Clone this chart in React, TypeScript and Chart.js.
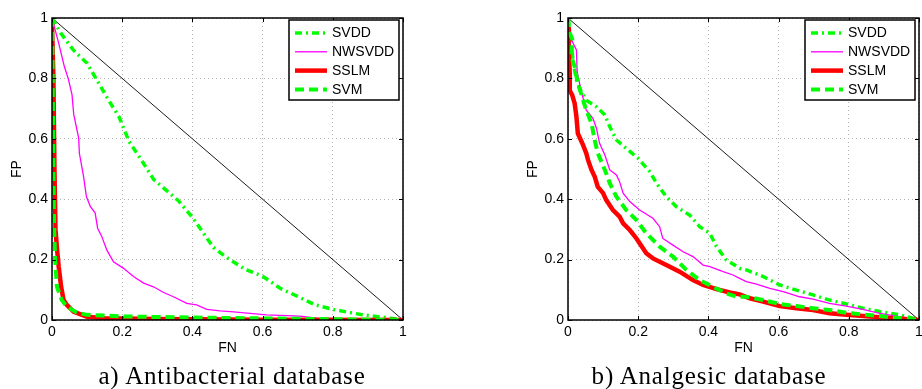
import React, { useEffect, useRef } from "react";
import { Chart, registerables } from "chart.js";

Chart.register(...registerables);

// ---------- data ----------
const tickValues = [0, 0.2, 0.4, 0.6, 0.8, 1];
const tickLabels = ["0", "0.2", "0.4", "0.6", "0.8", "1"];
const xTitle = "FN";
const yTitle = "FP";
const seriesNames = ["SVDD", "NWSVDD", "SSLM", "SVM"];
const captionA = "a) Antibacterial database";
const captionB = "b) Analgesic database";

const refFN = [0, 1];
const refFP = [1, 0];

// a) Antibacterial
const abSvddFN = [0, 0.025, 0.06, 0.1, 0.125, 0.16, 0.19, 0.22, 0.26, 0.29, 0.33, 0.36, 0.4, 0.43, 0.46, 0.5, 0.55, 0.6, 0.65, 0.7, 0.75, 0.8, 0.88, 0.95, 1];
const abSvddFP = [1, 0.95, 0.895, 0.85, 0.8, 0.73, 0.675, 0.59, 0.52, 0.465, 0.425, 0.395, 0.34, 0.29, 0.24, 0.205, 0.168, 0.145, 0.105, 0.078, 0.05, 0.035, 0.018, 0.008, 0];
const abNwFN = [0, 0.019, 0.035, 0.047, 0.057, 0.062, 0.076, 0.078, 0.09, 0.098, 0.109, 0.123, 0.13, 0.142, 0.156, 0.175, 0.204, 0.232, 0.261, 0.289, 0.318, 0.346, 0.384, 0.412, 0.441, 0.479, 0.517, 0.564, 0.611, 0.706, 0.754, 0.8, 1];
const abNwFP = [1, 0.917, 0.84, 0.796, 0.746, 0.68, 0.602, 0.552, 0.475, 0.409, 0.376, 0.354, 0.304, 0.276, 0.232, 0.193, 0.171, 0.144, 0.122, 0.11, 0.091, 0.077, 0.055, 0.05, 0.035, 0.03, 0.027, 0.022, 0.017, 0.013, 0.006, 0.005, 0];
const abSslmFN = [0, 0.004, 0.007, 0.01, 0.014, 0.019, 0.026, 0.033, 0.042, 0.062, 0.1, 0.15, 0.3, 0.6, 1];
const abSslmFP = [0.98, 0.8, 0.5, 0.3, 0.24, 0.177, 0.11, 0.066, 0.05, 0.027, 0.011, 0.006, 0.003, 0.001, 0];
const abSvmFN = [0, 0.002, 0.004, 0.006, 0.009, 0.014, 0.028, 0.042, 0.07, 0.1, 0.2, 0.4, 0.7, 1];
const abSvmFP = [1, 0.8, 0.5, 0.3, 0.2, 0.11, 0.066, 0.044, 0.025, 0.017, 0.012, 0.008, 0.004, 0];

// b) Analgesic
const anSvddFN = [0, 0.008, 0.015, 0.025, 0.038, 0.052, 0.081, 0.105, 0.119, 0.138, 0.166, 0.199, 0.233, 0.252, 0.28, 0.309, 0.347, 0.375, 0.404, 0.423, 0.451, 0.489, 0.508, 0.556, 0.603, 0.651, 0.698, 0.745, 0.793, 0.84, 0.888, 0.945, 1];
const anSvddFP = [1, 0.93, 0.85, 0.79, 0.755, 0.728, 0.706, 0.679, 0.64, 0.596, 0.568, 0.536, 0.491, 0.453, 0.408, 0.375, 0.347, 0.309, 0.287, 0.243, 0.199, 0.171, 0.166, 0.144, 0.116, 0.099, 0.083, 0.066, 0.053, 0.039, 0.028, 0.017, 0];
const anNwFN = [0, 0.01, 0.024, 0.026, 0.038, 0.052, 0.071, 0.081, 0.09, 0.105, 0.119, 0.138, 0.147, 0.157, 0.176, 0.204, 0.242, 0.261, 0.27, 0.299, 0.328, 0.356, 0.385, 0.404, 0.442, 0.47, 0.489, 0.508, 0.537, 0.575, 0.613, 0.66, 0.698, 0.745, 0.793, 0.84, 0.888, 0.935, 1];
const anNwFP = [1, 0.927, 0.894, 0.822, 0.756, 0.695, 0.668, 0.635, 0.585, 0.546, 0.497, 0.48, 0.458, 0.42, 0.392, 0.364, 0.337, 0.309, 0.27, 0.248, 0.226, 0.21, 0.182, 0.177, 0.16, 0.149, 0.138, 0.127, 0.119, 0.105, 0.094, 0.077, 0.069, 0.055, 0.046, 0.035, 0.022, 0.013, 0];
const anSslmFN = [0, 0.002, 0.005, 0.005, 0.012, 0.019, 0.024, 0.028, 0.043, 0.052, 0.057, 0.067, 0.076, 0.085, 0.1, 0.109, 0.128, 0.147, 0.157, 0.176, 0.195, 0.204, 0.223, 0.242, 0.28, 0.318, 0.356, 0.385, 0.423, 0.461, 0.489, 0.518, 0.556, 0.603, 0.651, 0.698, 0.745, 0.793, 0.888, 1];
const anSslmFP = [0.97, 0.9, 0.817, 0.76, 0.745, 0.717, 0.673, 0.618, 0.579, 0.552, 0.53, 0.497, 0.475, 0.441, 0.42, 0.397, 0.364, 0.342, 0.32, 0.298, 0.27, 0.254, 0.221, 0.204, 0.182, 0.16, 0.132, 0.116, 0.102, 0.091, 0.085, 0.072, 0.061, 0.046, 0.039, 0.033, 0.022, 0.017, 0.009, 0];
const anSvmFN = [0, 0.005, 0.012, 0.01, 0.019, 0.028, 0.043, 0.052, 0.067, 0.076, 0.085, 0.105, 0.119, 0.138, 0.166, 0.195, 0.223, 0.261, 0.299, 0.337, 0.375, 0.413, 0.451, 0.48, 0.508, 0.556, 0.603, 0.651, 0.698, 0.745, 0.793, 0.888, 1];
const anSvmFP = [1, 0.95, 0.93, 0.87, 0.839, 0.784, 0.728, 0.695, 0.651, 0.596, 0.552, 0.497, 0.453, 0.408, 0.364, 0.331, 0.287, 0.243, 0.21, 0.166, 0.132, 0.11, 0.088, 0.077, 0.077, 0.066, 0.053, 0.046, 0.039, 0.033, 0.024, 0.013, 0];

// ---------- styles ----------
const GREEN = "#00ff00";
const styles: Record<string, { color: string; width: number; dash: number[]; order: number }> = {
  SVDD: { color: GREEN, width: 3.5, dash: [7, 4, 2, 4], order: 3 },
  NWSVDD: { color: "#ff00ff", width: 1.3, dash: [], order: 2 },
  SSLM: { color: "#ff0000", width: 4.5, dash: [], order: 1 },
  SVM: { color: GREEN, width: 4, dash: [9, 5], order: 0 },
};

const SANS = "'Liberation Sans', Arial, Helvetica, sans-serif";

type Series = { name: string; fn: number[]; fp: number[] };

const toPoints = (xs: number[], ys: number[]) => xs.map((x, i) => ({ x, y: ys[i] }));

const framePlugin = {
  id: "matlabFrame",
  afterDraw(chart: any) {
    const { ctx, chartArea: a, scales } = chart;
    ctx.save();
    // ticks inward
    ctx.strokeStyle = "#000";
    ctx.lineWidth = 1;
    ctx.beginPath();
    tickValues.forEach((v) => {
      const px = Math.round(scales.x.getPixelForValue(v)) + 0.5;
      const py = Math.round(scales.y.getPixelForValue(v)) + 0.5;
      ctx.moveTo(px, a.bottom);
      ctx.lineTo(px, a.bottom - 4);
      ctx.moveTo(px, a.top);
      ctx.lineTo(px, a.top + 4);
      ctx.moveTo(a.left, py);
      ctx.lineTo(a.left + 4, py);
      ctx.moveTo(a.right, py);
      ctx.lineTo(a.right - 4, py);
    });
    ctx.stroke();
    // frame
    ctx.lineWidth = 1.5;
    ctx.strokeRect(a.left, a.top, a.right - a.left, a.bottom - a.top);

    // legend
    const w = 110;
    const h = 80;
    const lx = a.right - 4 - w;
    const ly = a.top + 2;
    ctx.fillStyle = "#fff";
    ctx.fillRect(lx, ly, w, h);
    ctx.lineWidth = 1.5;
    ctx.strokeStyle = "#000";
    ctx.strokeRect(lx, ly, w, h);
    ctx.font = `14px ${SANS}`;
    ctx.textBaseline = "middle";
    ctx.textAlign = "left";
    seriesNames.forEach((name, i) => {
      const s = styles[name];
      const y = ly + 13 + i * 18.8;
      ctx.beginPath();
      ctx.strokeStyle = s.color;
      ctx.lineWidth = s.width;
      ctx.setLineDash(s.dash);
      ctx.moveTo(lx + 6, y);
      ctx.lineTo(lx + 38, y);
      ctx.stroke();
      ctx.setLineDash([]);
      ctx.fillStyle = "#000";
      ctx.fillText(name, lx + 43, y + 0.5);
    });
    ctx.restore();
  },
};

function RocChart({ series, width, height }: { series: Series[]; width: number; height: number }) {
  const ref = useRef<HTMLCanvasElement>(null);
  useEffect(() => {
    if (!ref.current) return;
    const datasets: any[] = series.map((s) => ({
      label: s.name,
      data: toPoints(s.fn, s.fp),
      borderColor: styles[s.name].color,
      borderWidth: styles[s.name].width,
      borderDash: styles[s.name].dash,
      order: styles[s.name].order,
      pointRadius: 0,
      tension: 0,
      fill: false,
    }));
    datasets.push({
      label: "ref",
      data: toPoints(refFN, refFP),
      borderColor: "#000",
      borderWidth: 0.9,
      order: 5,
      pointRadius: 0,
      tension: 0,
      fill: false,
    });
    const axisCommon = {
      type: "linear" as const,
      min: 0,
      max: 1,
      afterBuildTicks: (scale: any) => {
        scale.ticks = tickValues.map((v) => ({ value: v }));
      },
      grid: { color: "#b4b4b4", lineWidth: 1, drawTicks: false },
      border: { display: false, dash: [1, 3] },
    };
    const chart = new Chart(ref.current, {
      type: "line",
      data: { datasets },
      plugins: [framePlugin],
      options: {
        animation: false,
        responsive: false,
        devicePixelRatio: 1,
        layout: { padding: { left: 0, right: 17, top: 18, bottom: 0 } },
        plugins: { legend: { display: false }, tooltip: { enabled: false } },
        scales: {
          x: {
            ...axisCommon,
            position: "bottom",
            ticks: {
              color: "#000",
              font: { family: SANS, size: 14 },
              padding: 4,
              maxRotation: 0,
              callback: (_v: any, i: number) => tickLabels[i],
            },
            title: {
              display: true,
              text: xTitle,
              color: "#000",
              font: { family: SANS, size: 14 },
              padding: { top: 0, bottom: 32 },
            },
            afterFit: (scale: any) => {
              scale.height = 69;
            },
          },
          y: {
            ...axisCommon,
            position: "left",
            ticks: {
              color: "#000",
              font: { family: SANS, size: 14 },
              padding: 4,
              callback: (_v: any, i: number) => tickLabels[i],
            },
            title: {
              display: true,
              text: yTitle,
              color: "#000",
              font: { family: SANS, size: 14 },
              padding: { top: 9, bottom: 0 },
            },
            afterFit: (scale: any) => {
              scale.width = 52;
            },
          },
        },
      } as any,
    });
    return () => chart.destroy();
  }, [series]);
  return <canvas ref={ref} width={width} height={height} style={{ width, height, display: "block" }} />;
}

const seriesA: Series[] = [
  { name: "SVDD", fn: abSvddFN, fp: abSvddFP },
  { name: "NWSVDD", fn: abNwFN, fp: abNwFP },
  { name: "SSLM", fn: abSslmFN, fp: abSslmFP },
  { name: "SVM", fn: abSvmFN, fp: abSvmFP },
];
const seriesB: Series[] = [
  { name: "SVDD", fn: anSvddFN, fp: anSvddFP },
  { name: "NWSVDD", fn: anNwFN, fp: anNwFP },
  { name: "SSLM", fn: anSslmFN, fp: anSslmFP },
  { name: "SVM", fn: anSvmFN, fp: anSvmFP },
];

const captionStyle: React.CSSProperties = {
  position: "absolute",
  top: 362,
  height: 28,
  lineHeight: "28px",
  fontFamily: "'Liberation Serif', 'Times New Roman', serif",
  fontSize: 25,
  letterSpacing: 0.8,
  color: "#000",
  textAlign: "center",
  whiteSpace: "nowrap",
};

export default function App() {
  return (
    <div style={{ position: "fixed", left: 0, top: 0, width: 922, height: 389, overflow: "hidden", background: "#fff" }}>
      <div style={{ position: "absolute", left: 0, top: 0 }}>
        <RocChart series={seriesA} width={420} height={389} />
      </div>
      <div style={{ position: "absolute", left: 516, top: 0 }}>
        <RocChart series={seriesB} width={420} height={389} />
      </div>
      <div style={{ ...captionStyle, left: 82, width: 300 }}>{captionA}</div>
      <div style={{ ...captionStyle, left: 559, width: 300 }}>{captionB}</div>
    </div>
  );
}
